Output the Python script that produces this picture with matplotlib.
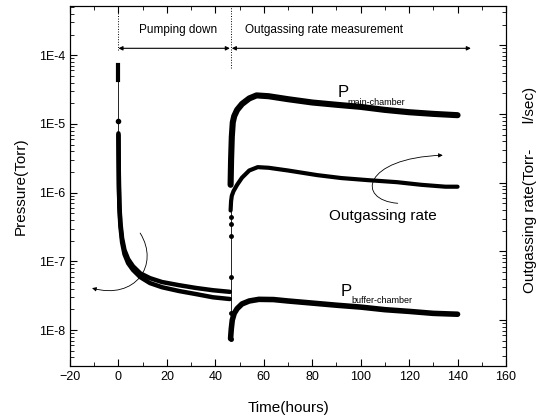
import numpy as np
import matplotlib
matplotlib.use('Agg')
import matplotlib.pyplot as plt
from matplotlib.ticker import MultipleLocator, LogLocator, NullFormatter
from matplotlib.patches import FancyArrowPatch
from matplotlib.path import Path

plt.rcParams['font.family'] = ['Liberation Sans', 'DejaVu Sans']

# pumping down (hours, Torr)
pump_t = [0, 0.1, 0.2, 0.4, 0.8, 1.5, 2.5, 4, 6, 9, 13, 18, 25, 32, 39, 46]
pump_main = [7.3e-6, 2.97e-6, 1.29e-6, 6.6e-7, 3.7e-7, 2.18e-7, 1.46e-7, 1.08e-7,
             8.5e-8, 6.7e-8, 5.7e-8, 5.0e-8, 4.5e-8, 4.1e-8, 3.8e-8, 3.6e-8]
pump_buffer = [6.9e-6, 2.69e-6, 1.16e-6, 5.95e-7, 3.26e-7, 1.9e-7, 1.27e-7, 9.4e-8,
               7.5e-8, 5.9e-8, 4.83e-8, 4.2e-8, 3.7e-8, 3.34e-8, 3.0e-8, 2.83e-8]
start_p = [7.1e-5, 4.3e-5]          # first readings at t=0
start_gap = [4.3e-5, 1.1e-5, 7.3e-6]

# outgassing rate measurement
main_t = [46.3, 46.5, 46.8, 47.2, 47.8, 49, 51, 54, 57, 62, 70, 80, 90, 100, 110, 120, 130, 140]
main_p = [1.3e-6, 3e-6, 6.5e-6, 1.05e-5, 1.3e-5, 1.6e-5, 1.95e-5, 2.35e-5, 2.6e-5, 2.53e-5,
          2.29e-5, 2.05e-5, 1.9e-5, 1.77e-5, 1.6e-5, 1.48e-5, 1.4e-5, 1.34e-5]
rate_t = [46.3, 46.5, 46.8, 47.5, 49, 51, 54, 57.5, 62, 70, 82, 92, 103, 115, 125, 135, 140]
rate_q = [5.5e-7, 7.5e-7, 9e-7, 1.05e-6, 1.3e-6, 1.65e-6, 2.1e-6, 2.35e-6, 2.3e-6, 2.1e-6,
          1.8e-6, 1.63e-6, 1.52e-6, 1.42e-6, 1.3e-6, 1.22e-6, 1.22e-6]
buf_t = [46.3, 46.4, 46.6, 47, 47.8, 49, 51, 54, 58, 64, 70, 80, 90, 100, 110, 120, 130, 140]
buf_p = [7.5e-9, 8.5e-9, 1.05e-8, 1.4e-8, 1.75e-8, 2.05e-8, 2.4e-8, 2.65e-8, 2.8e-8, 2.78e-8,
         2.65e-8, 2.47e-8, 2.3e-8, 2.16e-8, 1.98e-8, 1.87e-8, 1.75e-8, 1.7e-8]
switch_t = 46.3
switch_p = [6e-7, 4.4e-7, 3.5e-7, 2.3e-7, 5.9e-8, 1.75e-8, 7.5e-9]

fig = plt.figure(figsize=(5.45, 4.2), dpi=100)
ax = fig.add_axes([70/545, 1-366/420, 436/545, 360/420])

ax.plot([0, 0], start_p, 'k-', lw=3)
ax.plot([0]*3, start_gap, 'k-', lw=0.6)
ax.plot([0], [start_gap[1]], 'ko', ms=3)
ax.plot(pump_t, pump_main, 'k-', lw=3.2, solid_capstyle='round')
ax.plot(pump_t, pump_buffer, 'k-', lw=3.2, solid_capstyle='round')

ax.plot([switch_t]*len(switch_p), switch_p, 'k-', lw=0.6)
ax.plot([switch_t]*(len(switch_p)-1), switch_p[1:], 'ko', ms=2.5)
ax.plot(main_t, main_p, 'k-', lw=4.4, solid_capstyle='round')
ax.plot(rate_t, rate_q, 'k-', lw=3, solid_capstyle='round')
ax.plot(buf_t, buf_p, 'k-', lw=4, solid_capstyle='round')

ax.set_yscale('log')
ax.set_xlim(-20, 160)
ax.set_ylim(3e-9, 5.2e-4)
ax.set_yticks([1e-8, 1e-7, 1e-6, 1e-5, 1e-4])
ax.set_yticklabels(['1E-8', '1E-7', '1E-6', '1E-5', '1E-4'])
ax.yaxis.set_minor_locator(LogLocator(subs=np.arange(2, 10)))
ax.yaxis.set_minor_formatter(NullFormatter())
ax.xaxis.set_major_locator(MultipleLocator(20))
ax.xaxis.set_minor_locator(MultipleLocator(10))
ax.tick_params(which='both', direction='in', top=True, right=False, labelsize=9)
ax.tick_params(which='major', length=5)
ax.tick_params(which='minor', length=3)

ax2 = ax.twinx()
ax2.set_yscale('log')
ax2.set_ylim(3e-9 / 10**0.145, 5.2e-4 / 10**0.145)
ax2.yaxis.set_minor_locator(LogLocator(subs=np.arange(2, 10)))
ax2.yaxis.set_major_formatter(NullFormatter())
ax2.yaxis.set_minor_formatter(NullFormatter())
ax2.tick_params(which='both', direction='in')
ax2.tick_params(which='major', length=5)
ax2.tick_params(which='minor', length=3)

ax.set_xlabel('Time(hours)', fontsize=11, labelpad=13)
ax.set_ylabel('Pressure(Torr)', fontsize=11, labelpad=8)
fig.text(530/545, 1-190/420, 'Outgassing rate(Torr-      l/sec)', rotation=90,
         fontsize=11, ha='center', va='center')

# stage markers
ax.plot([0, 0], [1.18e-4, 5.2e-4], 'k:', lw=0.7)
ax.plot([switch_t, switch_t], [6.5e-5, 5.2e-4], 'k:', lw=0.7)
ax.annotate('', xy=(0, 1.26e-4), xytext=(switch_t - 0.3, 1.26e-4),
            arrowprops=dict(arrowstyle='<|-|>', lw=0.8, color='k', mutation_scale=6,
                            shrinkA=0, shrinkB=0))
ax.annotate('', xy=(switch_t + 0.5, 1.26e-4), xytext=(145.5, 1.26e-4),
            arrowprops=dict(arrowstyle='<|-|>', lw=0.8, color='k', mutation_scale=6,
                            shrinkA=0, shrinkB=0))
ax.text(24.7, 2.3e-4, 'Pumping down', fontsize=8.5, ha='center', va='center')
ax.text(52.4, 2.3e-4, 'Outgassing rate measurement', fontsize=8.5, ha='left', va='center')

# curve labels
ax.text(90.5, 2.45e-5, 'P', fontsize=12, ha='left', va='baseline')
ax.text(94.6, 1.87e-5, 'main-chamber', fontsize=6.5, ha='left', va='baseline')
ax.text(91.7, 3.13e-8, 'P', fontsize=12, ha='left', va='baseline')
ax.text(96.0, 2.47e-8, 'buffer-chamber', fontsize=6.5, ha='left', va='baseline')
ax.text(109, 3.98e-7, 'Outgassing rate', fontsize=11, ha='center', va='baseline')

# curved pointers
codes = [Path.MOVETO, Path.CURVE4, Path.CURVE4, Path.CURVE4]
p1 = Path([(115.3, 7.0e-7), (97.9, 7.8e-7), (100.8, 3.2e-6), (133.9, 3.5e-6)], codes)
p2 = Path([(8.96, 2.58e-7), (17.2, 8.8e-8), (6.9, 2.73e-8), (-10.9, 4.08e-8)], codes)
for p in (p1, p2):
    ax.add_patch(FancyArrowPatch(path=p, arrowstyle='-|>', mutation_scale=6, lw=0.6,
                                 color='k', transform=ax.transData))

fig.savefig('out.png', dpi=100)
